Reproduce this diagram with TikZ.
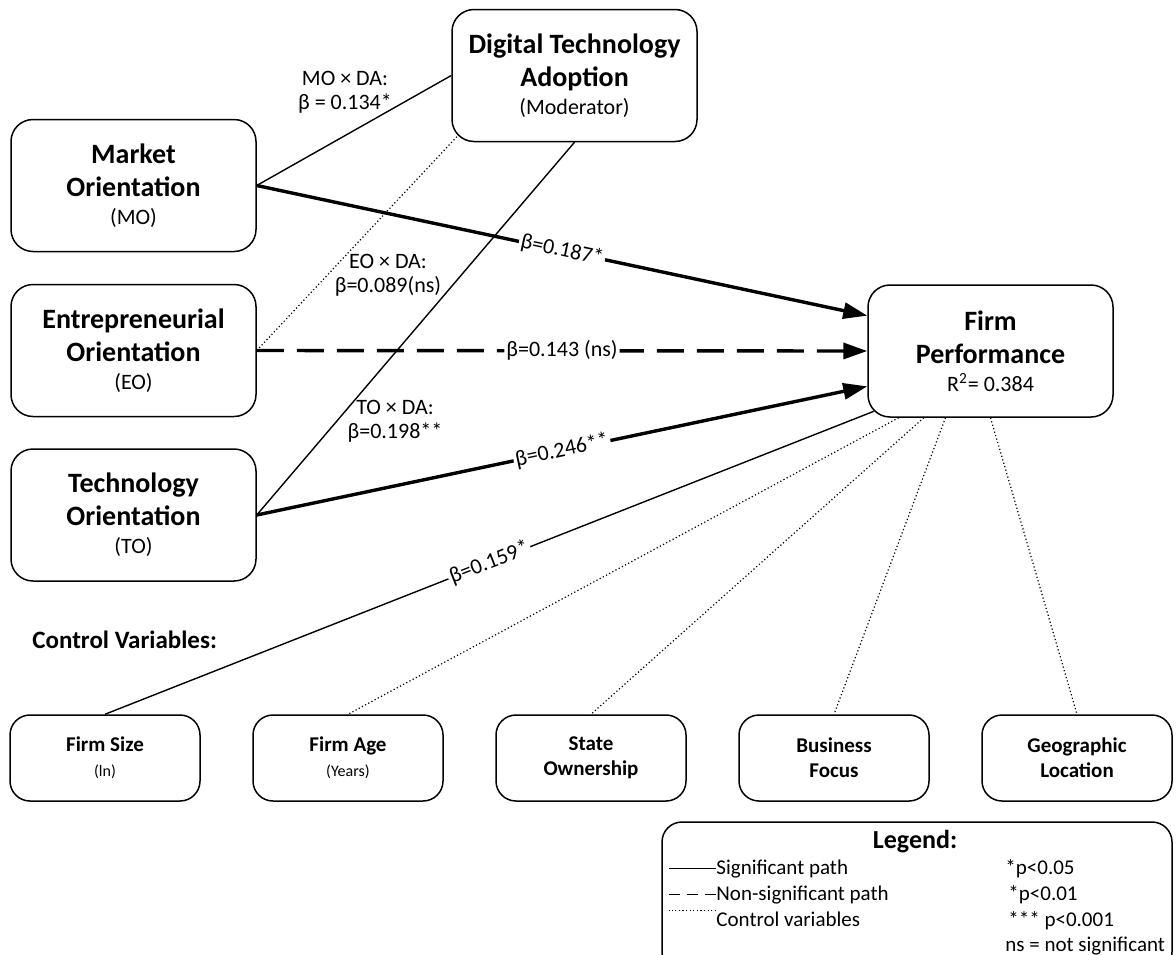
\documentclass[tikz,border=0pt]{standalone}
\usepackage{fontspec}
\setmainfont{Carlito}
\usetikzlibrary{arrows.meta,calc}

\begin{document}
\begin{tikzpicture}[x=0.5pt,y=-0.5pt,
  mainbox/.style={draw,line width=0.75pt,rounded corners=11pt,minimum width=122.5pt,minimum height=66pt,align=center,inner sep=0pt,font=\fontsize{14}{16.5}\selectfont\bfseries},
  ctrlbox/.style={draw,line width=0.75pt,rounded corners=10pt,minimum width=95pt,minimum height=43pt,align=center,inner sep=0pt,font=\fontsize{10.5}{12.5}\selectfont\bfseries},
  lbl/.style={align=center,font=\fontsize{11}{12}\selectfont},
  plbl/.style={midway,sloped,fill=white,inner sep=1pt,font=\fontsize{11}{13}\selectfont},
  legtxt/.style={anchor=base west,inner sep=0pt,font=\fontsize{10.5}{12.5}\selectfont},
  modline/.style={line width=0.7pt},
  dotline/.style={line width=0.6pt,dash pattern=on 0.6pt off 1.2pt},
  sigpath/.style={line width=1.7pt,-{Triangle[length=12pt,width=8pt]}},
  nspath/.style={sigpath,dash pattern=on 13.5pt off 6.5pt}]
\useasboundingbox (0,0) rectangle (1176,954);

\node[mainbox] (dta) at (574.5,75.5) {Digital Technology\\Adoption\\[-2.5pt]{\mdseries\fontsize{11}{13}\selectfont (Moderator)}};
\node[mainbox] (mo) at (133.5,185.5) {Market\\Orientation\\[-2.5pt]{\mdseries\fontsize{11}{13}\selectfont (MO)}};
\node[mainbox] (eo) at (133.5,350.5) {Entrepreneurial\\Orientation\\[-2.5pt]{\mdseries\fontsize{11}{13}\selectfont (EO)}};
\node[mainbox] (teo) at (133.5,515) {Technology\\Orientation\\[-2.5pt]{\mdseries\fontsize{11}{13}\selectfont (TO)}};
\node[mainbox] (fp) at (990.5,351) {Firm\\Performance\\[-2.5pt]{\mdseries\fontsize{11}{13}\selectfont R\textsuperscript{2}= 0.384}};

\node[lbl] (mdlbl) at (345,92) {MO × DA:\\β = 0.134*};
\node[lbl] (edlbl) at (388,275) {EO × DA:\\β=0.089(ns)};
\node[lbl] (tdlbl) at (395,421) {TO × DA:\\β=0.198**};
\node[anchor=base west,inner sep=0pt,font=\fontsize{12.5}{15}\selectfont\bfseries] (ctrl) at (32,648) {Control Variables:};

\node[ctrlbox] (size) at (105,758) {Firm Size\\{\mdseries\fontsize{8}{10}\selectfont (ln)}};
\node[ctrlbox] (age) at (348,758) {Firm Age\\{\mdseries\fontsize{8}{10}\selectfont (Years)}};
\node[ctrlbox] (state) at (591,758) {State\\Ownership};
\node[ctrlbox] (focus) at (834,758) {Business\\Focus};
\node[ctrlbox] (geo) at (1077,758) {Geographic\\Location};

\coordinate (dtasw) at ($(dta.south west)+(3.2pt,3.2pt)$);
\coordinate (fpsw) at ($(fp.south west)+(3.2pt,3.2pt)$);

\draw[modline] (mo.east) -- (dta.west);
\draw[dotline] (eo.east) -- (dtasw);
\draw[modline] (teo.east) -- (dta.south);
\draw[sigpath] (mo.east) -- (fp.164) node[plbl] {β=0.187*};
\draw[nspath] (eo.east) -- (fp.west) node[plbl] {β=0.143 (ns)};
\draw[sigpath] (teo.east) -- (fp.196) node[plbl] {β=0.246**};

\draw[modline] (fpsw) -- (size.north) node[plbl] {β=0.159*};
\draw[dotline] (fp.216) -- (age.north);
\draw[dotline] (fp.225) -- (state.north);
\draw[dotline] (fp.236) -- (focus.north);
\draw[dotline] (fp.south) -- (geo.north);

\node[draw,line width=0.75pt,rounded corners=10pt,minimum width=255pt,minimum height=75pt,inner sep=0pt] (legend) at (917,897) {};
\node[anchor=base,font=\fontsize{13}{15}\selectfont\bfseries] (legtitle) at (915,848) {Legend:};
\node[legtxt] (lsig) at (716,874) {Significant path};
\node[legtxt] (lns) at (716,900) {Non-significant path};
\node[legtxt] (lctl) at (716,926) {Control variables};
\draw[modline] (lsig.west) -- ++(-47,0);
\draw[modline,dash pattern=on 5.5pt off 3.5pt] (lns.west) -- ++(-47,0);
\draw[dotline] ([yshift=4pt]lctl.west) -- ++(-47,0);
\node[legtxt] (p1) at (1005,874) {*p<0.05};
\node[legtxt] (p2) at (1008,900) {*p<0.01};
\node[legtxt] (p3) at (1008,926) {*** p<0.001};
\node[legtxt] (pns) at (1005,951) {ns = not significant};
\end{tikzpicture}
\end{document}
